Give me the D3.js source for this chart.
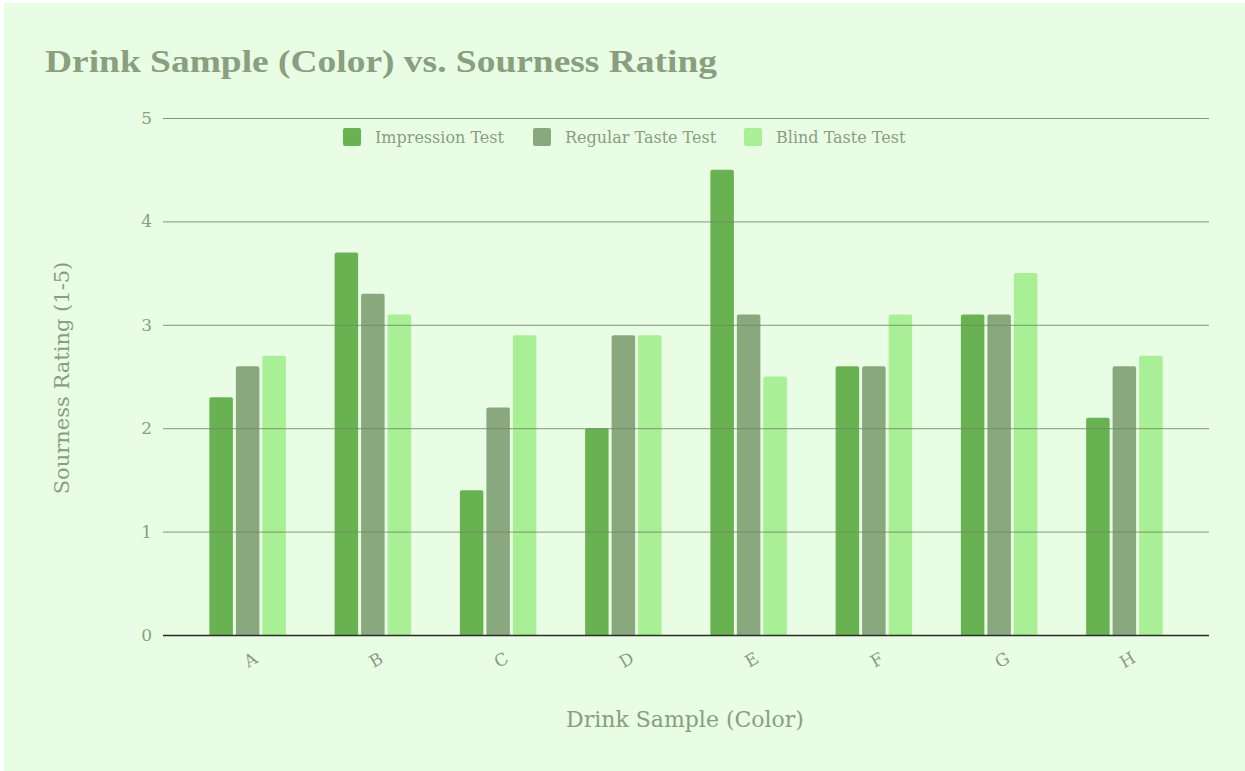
<!DOCTYPE html>
<html>
<head>
<meta charset="utf-8">
<script src="https://cdn.jsdelivr.net/npm/d3@7"></script>
<style>
  body { margin: 0; background: #ffffff; }
  svg { display: block; }
</style>
</head>
<body>
<div id="chart"></div>
<script>
// Chart data
const samples = ["A", "B", "C", "D", "E", "F", "G", "H"];
const seriesNames = ["Impression Test", "Regular Taste Test", "Blind Taste Test"];
const impression = [2.3, 3.7, 1.4, 2.0, 4.5, 2.6, 3.1, 2.1];
const regular = [2.6, 3.3, 2.2, 2.9, 3.1, 2.6, 3.1, 2.6];
const blind = [2.7, 3.1, 2.9, 2.9, 2.5, 3.1, 3.5, 2.7];
const yTicks = [0, 1, 2, 3, 4, 5];

const colors = ["#69b251", "#8aa87e", "#a9ef95"];
const textColor = "#8a9e80";
const fontFamily = "'DejaVu Serif', 'Liberation Serif', serif";

const svgWidth = 1245;
const svgHeight = 771;

const svg = d3.select("#chart")
    .append("svg")
    .attr("width", svgWidth)
    .attr("height", svgHeight);

// Background panel
svg.append("rect")
    .attr("x", 4)
    .attr("y", 3)
    .attr("width", svgWidth - 4)
    .attr("height", svgHeight - 3)
    .attr("fill", "#e8fde4");

// Title
svg.append("text")
    .attr("x", 45)
    .attr("y", 72)
    .attr("fill", textColor)
    .style("font-family", "'Liberation Serif', serif")
    .style("font-weight", "bold")
    .style("font-size", "31px")
    .attr("textLength", 672)
    .attr("lengthAdjust", "spacingAndGlyphs")
    .text("Drink Sample (Color) vs. Sourness Rating");

// Scales
const gridLeft = 163, gridRight = 1209;
const xScale = d3.scaleBand()
    .domain(samples)
    .range([185, 1187]);

const yScale = d3.scaleLinear()
    .domain([0, 5])
    .range([635, 118]);

const barW = 23.5, barGap = 3;
const groupW = barW * 3 + barGap * 2;

const table = samples.map((s, i) => ({
    sample: s,
    values: [impression[i], regular[i], blind[i]]
}));

// Bars
const groups = svg.selectAll(".group")
    .data(table)
    .enter()
    .append("g")
    .attr("class", "group")
    .attr("transform", d => `translate(${xScale(d.sample) + xScale.bandwidth() / 2 - groupW / 2}, 0)`);

groups.selectAll("path")
    .data(d => d.values)
    .enter()
    .append("path")
    .attr("fill", (d, i) => colors[i])
    .attr("d", (d, i) => {
        const x0 = i * (barW + barGap);
        const y0 = yScale(d);
        const y1 = yScale(0);
        const r = 2;
        return `M${x0},${y1} V${y0 + r} Q${x0},${y0} ${x0 + r},${y0} H${x0 + barW - r} Q${x0 + barW},${y0} ${x0 + barW},${y0 + r} V${y1} Z`;
    });

// Gridlines (drawn over the bars)
const yAxis = d3.axisLeft(yScale)
    .tickValues(yTicks)
    .tickSize(-(gridRight - gridLeft))
    .tickPadding(11)
    .tickFormat(d3.format("d"));

const yAxisGroup = svg.append("g")
    .attr("transform", `translate(${gridLeft}, 0)`)
    .call(yAxis);

yAxisGroup.select(".domain").remove();
yAxisGroup.selectAll(".tick line")
    .attr("stroke", "#6f8a66")
    .attr("stroke-opacity", d => d === 0 ? 0 : 0.85)
    .attr("stroke-width", 1);
yAxisGroup.selectAll(".tick text")
    .attr("fill", textColor)
    .style("font-family", fontFamily)
    .style("font-size", "17px");

// Baseline
svg.append("line")
    .attr("x1", gridLeft)
    .attr("x2", gridRight)
    .attr("y1", yScale(0) + 0.5)
    .attr("y2", yScale(0) + 0.5)
    .attr("stroke", "#2b2b2b")
    .attr("stroke-width", 1.5);

// X axis labels
const xAxisGroup = svg.append("g")
    .attr("transform", `translate(0, ${yScale(0)})`)
    .call(d3.axisBottom(xScale).tickSize(0));

xAxisGroup.select(".domain").remove();
xAxisGroup.selectAll(".tick text")
    .attr("fill", textColor)
    .style("font-family", fontFamily)
    .style("font-size", "17px")
    .attr("text-anchor", "middle")
    .attr("dy", null)
    .attr("y", 0)
    .attr("transform", "translate(6, 30) rotate(-30)");

// Axis titles
svg.append("text")
    .attr("x", 685)
    .attr("y", 727)
    .attr("text-anchor", "middle")
    .attr("fill", textColor)
    .style("font-family", fontFamily)
    .style("font-size", "22px")
    .text("Drink Sample (Color)");

svg.append("text")
    .attr("transform", "translate(69, 378) rotate(-90)")
    .attr("text-anchor", "middle")
    .attr("fill", textColor)
    .style("font-family", fontFamily)
    .style("font-size", "21px")
    .text("Sourness Rating (1-5)");

// Legend
const legendX = [343, 533, 744];
const legend = svg.selectAll(".legend")
    .data(seriesNames)
    .enter()
    .append("g")
    .attr("class", "legend")
    .attr("transform", (d, i) => `translate(${legendX[i]}, 128)`);

legend.append("rect")
    .attr("width", 18)
    .attr("height", 18)
    .attr("rx", 2)
    .attr("fill", (d, i) => colors[i]);

legend.append("text")
    .attr("x", 32)
    .attr("y", 15)
    .attr("fill", textColor)
    .style("font-family", fontFamily)
    .style("font-size", "16px")
    .text(d => d);
</script>
</body>
</html>
